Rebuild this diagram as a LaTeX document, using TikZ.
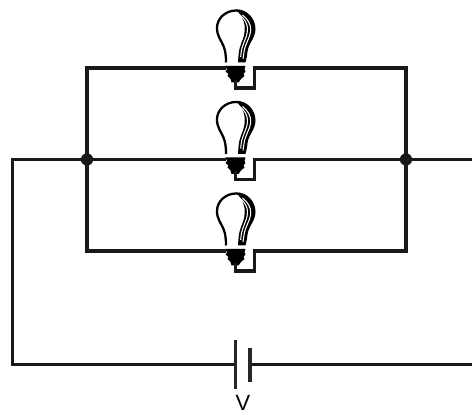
\documentclass[tikz,border=0pt]{standalone}
\usepackage{fontspec}
\setmainfont{Liberation Sans}
\tikzset{
  wire/.style={draw=black!90, line width=1.8pt, line join=miter},
  junction/.style={circle, fill=black!90, inner sep=0pt, minimum size=7pt},
  corner/.style={inner sep=0pt, minimum size=0pt},
  glass/.style={draw=black, line width=1.3pt},
  plate/.style={draw=black!85, line width=1.8pt},
  streak/.style={draw=white, line width=0.6pt}
}
\begin{document}
\begin{tikzpicture}[scale=0.2]
    \useasboundingbox (0,0) rectangle (47.2,-41.4);
    % junctions and corners
    \node [junction] (jleft) at (8.7,-15.95) {};
    \node [junction] (jright) at (40.6,-15.95) {};
    \node [corner] (topleft) at (8.7,-6.8) {};
    \node [corner] (topright) at (40.6,-6.8) {};
    \node [corner] (lowleft) at (8.7,-25.1) {};
    \node [corner] (lowright) at (40.6,-25.1) {};
    \node [corner] (inleft) at (1.25,-15.95) {};
    \node [corner] (outleft) at (1.25,-36.45) {};
    \node [corner] (inright) at (47.2,-15.95) {};
    \node [corner] (outright) at (47.2,-36.45) {};
    \node [corner] (platea) at (23.55,-36.45) {};
    \node [corner] (plateb) at (25,-36.45) {};
    % bulbs, one on each branch
    \foreach \name/\y in {top/-6.8,mid/-15.95,low/-25.1} {
      \begin{scope}[shift={(23.5,\y)}]
        \node [corner] (\name in) at (-0.9,0) {};
        \node [corner] (\name out) at (3.05,0) {};
        \draw [glass] (-0.9,0.55) .. controls (-0.9,1.2) and (-0.95,1.7) .. (-1.15,2.2)
          .. controls (-1.4,2.8) and (-1.8,3.2) .. (-1.8,4)
          .. controls (-1.8,5) and (-0.9,5.75) .. (0.1,5.75)
          .. controls (1.2,5.75) and (1.9,4.9) .. (1.9,3.8);
        \fill [black] (0.1,5.85) .. controls (1.3,5.8) and (2.05,4.9) .. (2.05,3.9)
          .. controls (2.05,3) and (1.3,2.4) .. (1.25,1.6)
          .. controls (1.2,1.2) and (1.15,0.9) .. (1.05,0.55) -- (0.3,0.55)
          .. controls (0.35,1.2) and (0.35,1.8) .. (0.6,2.4)
          .. controls (0.85,3) and (1.05,3.5) .. (0.95,4.3)
          .. controls (0.85,4.9) and (0.6,5.3) .. (0.1,5.85);
        \draw [streak] (0.75,5.3) .. controls (1.25,4.9) and (1.62,4.4) .. (1.57,3.7)
          .. controls (1.5,3) and (1,2.4) .. (0.9,1.6) -- (0.8,0.9);
        \draw [streak] (0.4,5.35) .. controls (1,4.9) and (1.28,4.4) .. (1.25,3.8)
          .. controls (1.2,3) and (0.72,2.4) .. (0.62,1.6) -- (0.57,1.1);
        \fill [black] (-0.95,0.2) -- (1.05,0.2) -- (0.95,-0.15) -- (1.05,-0.35) -- (0.85,-0.6)
          -- (0.95,-0.8) -- (0.6,-1.1) -- (0.35,-1.45) -- (-0.35,-1.45) -- (-0.45,-1.1)
          -- (-0.75,-0.8) -- (-0.65,-0.6) -- (-0.95,-0.35) -- (-0.8,-0.15) -- cycle;
        \draw [wire] (0.05,-1.2) -- (0.05,-2) -- (1.95,-2) -- (1.95,0) -- (3.05,0);
      \end{scope}
    }
    % branches
    \draw [wire] (topleft.center) -- (topin.center);
    \draw [wire] (topout.center) -- (topright.center);
    \draw [wire] (jleft.center) -- (midin.center);
    \draw [wire] (midout.center) -- (jright.center);
    \draw [wire] (lowleft.center) -- (lowin.center);
    \draw [wire] (lowout.center) -- (lowright.center);
    \draw [wire, line cap=rect] (topleft.center) -- (lowleft.center);
    \draw [wire, line cap=rect] (topright.center) -- (lowright.center);
    % supply
    \draw [wire] (jleft.center) -- (inleft.center) -- (outleft.center) -- (platea.center);
    \draw [wire] (jright.center) -- (inright.center);
    \draw [wire] (plateb.center) -- (outright.center);
    \draw [plate] (23.55,-34.05) -- (23.55,-38.9);
    \draw [plate] (25,-34.85) -- (25,-38.2);
    \node [corner] (vlabel) at (24.3,-40.3) {\fontsize{12.5}{14}\selectfont V};
\end{tikzpicture}
\end{document}
